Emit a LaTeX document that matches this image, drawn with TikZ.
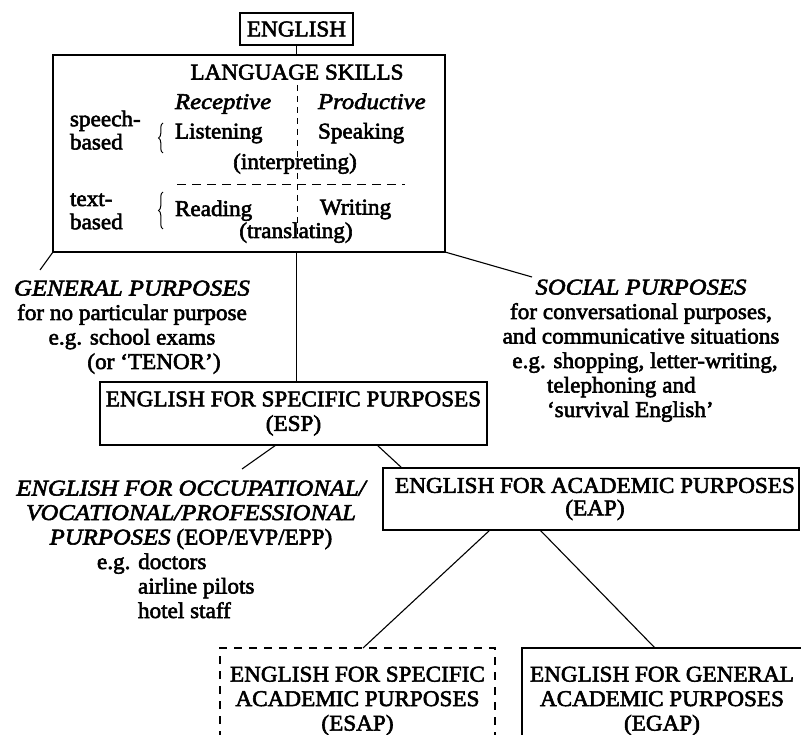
\documentclass[tikz,border=0pt]{standalone}
\usepackage{fontspec}
\setmainfont{Liberation Serif}[FakeStretch=1.03, FakeBold=2.5]
\newfontfamily\itwide{Liberation Serif}[FakeStretch=1.1, FakeBold=2.5]
\usetikzlibrary{decorations.pathreplacing}
\newcommand{\tf}{\fontsize{22.5}{24.5}\selectfont}
\newcommand{\tfb}{\fontsize{22.5}{22}\selectfont}
\newcommand{\iw}{\itwide\itshape}
\tikzset{
  x=1pt, y=-1pt,
  every node/.style={inner sep=0pt, outer sep=0pt, font=\tf},
  boxnode/.style={draw, line width=1.2pt, align=center},
  txt/.style={align=center},
  conn/.style={line width=1.1pt},
  dashv/.style={line width=1pt, dash pattern=on 6pt off 5pt},
  dashh/.style={line width=1pt, dash pattern=on 9pt off 6pt},
  bracedec/.style={line width=1pt, decorate, decoration={brace, amplitude=4.5pt}}
}
\begin{document}
\begin{tikzpicture}
\useasboundingbox (0,0) rectangle (801,735);
\fill[white] (0,0) rectangle (801,735);
\clip (0,0) rectangle (801,735);

% top boxes
\node[boxnode, minimum width=113pt, minimum height=32pt] (english) at (296.5,29) {ENGLISH};
\node[boxnode, minimum width=392pt, minimum height=197pt] (skills) at (249,153.5) {};

% skills content
\node[anchor=base] (lskills) at (297,79.5) {LANGUAGE SKILLS};
\node[anchor=base west] (rec) at (175,109) {\iw Receptive};
\node[anchor=base west] (prod) at (318,109) {\iw Productive};
\node[anchor=base west] (listen) at (175,138.5) {Listening};
\node[anchor=base west] (speak) at (318,138.5) {Speaking};
\node[anchor=base] (interp) at (295,169) {(interpreting)};
\node[anchor=base west] (read) at (175,216) {Reading};
\node[anchor=base west] (write) at (320,214.5) {Writing};
\node[anchor=base] (transl) at (296,238) {(translating)};
\node[anchor=north west, align=left, font=\tfb] (speech) at (70,110.6) {\strut speech-\\based};
\node[anchor=north west, align=left, font=\tfb] (textb) at (70,190.6) {\strut text-\\based};
\draw[bracedec] (163,153) -- (163,123);
\draw[bracedec] (163,229) -- (163,192);
\draw[dashv] (297,85) -- (297,238);
\draw[dashh] (177,185) -- (405,185);

% side texts
\node[txt, anchor=north] (general) at (132,278.35)
  {\strut\iw GENERAL PURPOSES\\for no particular purpose\\e.g. school exams\\\hspace*{44pt}(or `TENOR')};
\node[txt, anchor=north] (social) at (641,277.35)
  {\strut\iw SOCIAL PURPOSES\\for conversational purposes,\\and communicative situations\\\hspace*{8pt}e.g. shopping, letter-writing,\\\makebox[188pt][l]{telephoning and}\\\makebox[188pt][l]{`survival English'}};
\coordinate (genend) at (40,270);
\coordinate (socend) at (532,277);

% ESP
\node[boxnode, minimum width=387pt, minimum height=63pt] (esp) at (293.5,413.5)
  {ENGLISH FOR SPECIFIC PURPOSES\\(ESP)};

% EOP text
\node[txt, anchor=north] (eop) at (191,478.35)
  {\strut\iw ENGLISH FOR OCCUPATIONAL/\\\iw VOCATIONAL/PROFESSIONAL\\{\iw PURPOSES} (EOP/EVP/EPP)\\\makebox[188pt][l]{e.g. doctors}\\\makebox[188pt][l]{\hspace*{41pt}airline pilots}\\\makebox[188pt][l]{\hspace*{41pt}hotel staff}};
\coordinate (eopend) at (242,469);

% EAP
\node[boxnode, minimum width=416pt, minimum height=62pt, font=\fontsize{22.5}{22.5}\selectfont] (eap) at (591,499)
  {\hspace*{8pt}ENGLISH FOR ACADEMIC PURPOSES\\\hspace*{8pt}(EAP)};

% ESAP / EGAP
\node[boxnode, draw=none, minimum width=275pt, minimum height=106pt] (esap) at (357.5,701)
  {ENGLISH FOR SPECIFIC\\ACADEMIC PURPOSES\\(ESAP)};
\draw[line width=1.1pt, dash pattern=on 8pt off 7pt] (esap.south west) -- (esap.north west) -- (esap.north east) -- (esap.south east);
\node[boxnode, minimum width=280pt, minimum height=106pt] (egap) at (662,701)
  {ENGLISH FOR GENERAL\\ACADEMIC PURPOSES\\(EGAP)};

% connectors
\draw[conn] (english.south) -- (english.south |- skills.north);
\draw[conn] (skills.south -| english.south) -- (esp.north -| english.south);
\draw[conn] (skills.south west) -- (genend);
\draw[conn] (skills.south east) -- (socend);
\draw[conn] ([xshift=176pt]esp.south west) -- (eopend);
\draw[conn] ([xshift=277pt]esp.south west) -- ([xshift=19pt]eap.north west);
\draw[conn] ([xshift=107pt]eap.south west) -- ([xshift=143pt]esap.north west);
\draw[conn] ([xshift=157pt]eap.south west) -- ([xshift=133pt]egap.north west);
\end{tikzpicture}
\end{document}
